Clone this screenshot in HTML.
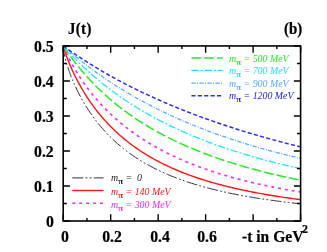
<!DOCTYPE html>
<html><head><meta charset="utf-8"><title>J(t)</title>
<style>
html,body{margin:0;padding:0;background:#fff;}
body{width:327px;height:252px;position:relative;overflow:hidden;font-family:"Liberation Serif",serif;}
.t{position:absolute;white-space:nowrap;line-height:1.149;will-change:transform;}
.b{font-weight:bold;-webkit-text-stroke:0.2px #000;}
.i{font-style:italic;}
.pi{font-style:normal;font-weight:bold;font-size:0.9em;position:relative;top:0.34em;}
.sup{font-size:0.8em;position:relative;top:-0.5em;}
</style></head><body>
<svg width="327" height="252" viewBox="0 0 327 252" style="position:absolute;left:0;top:0">
<clipPath id="cp"><rect x="63.2" y="45.95" width="237.40000000000003" height="175.05"/></clipPath>
<g clip-path="url(#cp)" fill="none">
<path d="M63.20,45.95 L63.50,49.88 L63.81,51.88 L64.11,53.54 L64.42,55.02 L64.72,56.39 L65.03,57.66 L65.33,58.88 L65.63,60.03 L65.94,61.15 L66.24,62.22 L66.55,63.27 L66.85,64.28 L67.16,65.27 L67.46,66.23 L67.77,67.17 L68.07,68.09 L68.37,69.00 L68.68,69.88 L68.98,70.75 L69.29,71.61 L69.59,72.45 L69.90,73.28 L70.20,74.09 L70.50,74.90 L70.81,75.69 L71.11,76.47 L71.42,77.24 L71.72,78.00 L72.03,78.75 L72.33,79.49 L72.64,80.22 L72.94,80.94 L73.24,81.66 L73.55,82.36 L73.85,83.06 L74.16,83.75 L74.46,84.44 L74.77,85.11 L75.07,85.78 L76.58,89.01 L78.10,92.09 L79.61,95.03 L81.12,97.86 L82.64,100.56 L84.15,103.17 L85.67,105.68 L87.18,108.10 L88.69,110.44 L90.21,112.69 L91.72,114.88 L93.23,116.99 L94.75,119.04 L96.26,121.03 L97.77,122.95 L99.29,124.82 L100.80,126.63 L102.32,128.39 L103.83,130.11 L105.34,131.77 L106.86,133.39 L108.37,134.96 L109.88,136.50 L111.40,137.99 L112.91,139.44 L114.42,140.86 L115.94,142.24 L117.45,143.59 L118.97,144.90 L120.48,146.18 L121.99,147.43 L123.51,148.65 L125.02,149.84 L126.53,151.00 L128.05,152.13 L129.56,153.24 L131.07,154.33 L132.59,155.38 L134.10,156.42 L135.61,157.43 L137.13,158.42 L138.64,159.38 L140.16,160.33 L141.67,161.26 L143.18,162.16 L144.70,163.05 L146.21,163.91 L147.72,164.76 L149.24,165.59 L150.75,166.41 L152.26,167.20 L153.78,167.98 L155.29,168.75 L156.81,169.50 L158.32,170.23 L159.83,170.95 L161.35,171.66 L162.86,172.35 L164.37,173.03 L165.89,173.69 L167.40,174.35 L168.91,174.99 L170.43,175.61 L171.94,176.23 L173.46,176.83 L174.97,177.43 L176.48,178.01 L178.00,178.58 L179.51,179.14 L181.02,179.69 L182.54,180.23 L184.05,180.76 L185.56,181.28 L187.08,181.79 L188.59,182.29 L190.11,182.79 L191.62,183.27 L193.13,183.75 L194.65,184.22 L196.16,184.68 L197.67,185.13 L199.19,185.57 L200.70,186.01 L202.21,186.44 L203.73,186.86 L205.24,187.28 L206.76,187.68 L208.27,188.09 L209.78,188.48 L211.30,188.87 L212.81,189.25 L214.32,189.63 L215.84,190.00 L217.35,190.36 L218.86,190.72 L220.38,191.07 L221.89,191.41 L223.41,191.76 L224.92,192.09 L226.43,192.42 L227.95,192.75 L229.46,193.07 L230.97,193.38 L232.49,193.69 L234.00,194.00 L235.51,194.30 L237.03,194.59 L238.54,194.89 L240.06,195.17 L241.57,195.46 L243.08,195.73 L244.60,196.01 L246.11,196.28 L247.62,196.55 L249.14,196.81 L250.65,197.07 L252.16,197.32 L253.68,197.57 L255.19,197.82 L256.70,198.06 L258.22,198.31 L259.73,198.54 L261.25,198.78 L262.76,199.01 L264.27,199.23 L265.79,199.46 L267.30,199.68 L268.81,199.90 L270.33,200.11 L271.84,200.32 L273.35,200.53 L274.87,200.74 L276.38,200.94 L277.90,201.14 L279.41,201.34 L280.92,201.53 L282.44,201.73 L283.95,201.92 L285.46,202.10 L286.98,202.29 L288.49,202.47 L290.00,202.65 L291.52,202.83 L293.03,203.00 L294.55,203.17 L296.06,203.35 L297.57,203.51 L299.09,203.68 L300.60,203.84" stroke="#303030" stroke-width="1.0" stroke-dasharray="11 2.3 1.8 2.3 1.8 2.3"/>
<path d="M63.20,45.95 L63.50,47.00 L63.81,48.01 L64.11,49.00 L64.42,49.96 L64.72,50.90 L65.03,51.82 L65.33,52.73 L65.63,53.61 L65.94,54.48 L66.24,55.34 L66.55,56.18 L66.85,57.00 L67.16,57.82 L67.46,58.62 L67.77,59.42 L68.07,60.20 L68.37,60.97 L68.68,61.73 L68.98,62.49 L69.29,63.23 L69.59,63.97 L69.90,64.69 L70.20,65.41 L70.50,66.13 L70.81,66.83 L71.11,67.53 L71.42,68.22 L71.72,68.90 L72.03,69.58 L72.33,70.25 L72.64,70.92 L72.94,71.57 L73.24,72.23 L73.55,72.87 L73.85,73.51 L74.16,74.15 L74.46,74.78 L74.77,75.40 L75.07,76.02 L76.58,79.03 L78.10,81.92 L79.61,84.70 L81.12,87.39 L82.64,89.99 L84.15,92.50 L85.67,94.93 L87.18,97.29 L88.69,99.57 L90.21,101.79 L91.72,103.95 L93.23,106.04 L94.75,108.08 L96.26,110.06 L97.77,111.98 L99.29,113.86 L100.80,115.69 L102.32,117.47 L103.83,119.20 L105.34,120.90 L106.86,122.55 L108.37,124.16 L109.88,125.73 L111.40,127.27 L112.91,128.76 L114.42,130.23 L115.94,131.66 L117.45,133.06 L118.97,134.42 L120.48,135.76 L121.99,137.06 L123.51,138.34 L125.02,139.59 L126.53,140.81 L128.05,142.01 L129.56,143.18 L131.07,144.33 L132.59,145.45 L134.10,146.55 L135.61,147.63 L137.13,148.68 L138.64,149.71 L140.16,150.73 L141.67,151.72 L143.18,152.69 L144.70,153.64 L146.21,154.58 L147.72,155.49 L149.24,156.39 L150.75,157.28 L152.26,158.14 L153.78,158.99 L155.29,159.82 L156.81,160.64 L158.32,161.44 L159.83,162.23 L161.35,163.00 L162.86,163.76 L164.37,164.50 L165.89,165.23 L167.40,165.95 L168.91,166.66 L170.43,167.35 L171.94,168.03 L173.46,168.70 L174.97,169.36 L176.48,170.00 L178.00,170.64 L179.51,171.26 L181.02,171.87 L182.54,172.48 L184.05,173.07 L185.56,173.65 L187.08,174.22 L188.59,174.79 L190.11,175.34 L191.62,175.88 L193.13,176.42 L194.65,176.95 L196.16,177.47 L197.67,177.98 L199.19,178.48 L200.70,178.97 L202.21,179.46 L203.73,179.94 L205.24,180.41 L206.76,180.87 L208.27,181.33 L209.78,181.78 L211.30,182.22 L212.81,182.65 L214.32,183.08 L215.84,183.50 L217.35,183.92 L218.86,184.33 L220.38,184.73 L221.89,185.13 L223.41,185.52 L224.92,185.91 L226.43,186.28 L227.95,186.66 L229.46,187.03 L230.97,187.39 L232.49,187.75 L234.00,188.10 L235.51,188.45 L237.03,188.79 L238.54,189.13 L240.06,189.46 L241.57,189.79 L243.08,190.11 L244.60,190.43 L246.11,190.75 L247.62,191.06 L249.14,191.36 L250.65,191.66 L252.16,191.96 L253.68,192.25 L255.19,192.54 L256.70,192.83 L258.22,193.11 L259.73,193.39 L261.25,193.66 L262.76,193.93 L264.27,194.20 L265.79,194.46 L267.30,194.72 L268.81,194.98 L270.33,195.23 L271.84,195.48 L273.35,195.72 L274.87,195.97 L276.38,196.21 L277.90,196.44 L279.41,196.68 L280.92,196.91 L282.44,197.13 L283.95,197.36 L285.46,197.58 L286.98,197.80 L288.49,198.02 L290.00,198.23 L291.52,198.44 L293.03,198.65 L294.55,198.85 L296.06,199.06 L297.57,199.26 L299.09,199.45 L300.60,199.65" stroke="#ff1414" stroke-width="1.4"/>
<path d="M63.20,45.95 L63.50,46.66 L63.81,47.36 L64.11,48.05 L64.42,48.74 L64.72,49.42 L65.03,50.09 L65.33,50.76 L65.63,51.42 L65.94,52.07 L66.24,52.72 L66.55,53.36 L66.85,54.00 L67.16,54.63 L67.46,55.25 L67.77,55.87 L68.07,56.49 L68.37,57.10 L68.68,57.70 L68.98,58.30 L69.29,58.90 L69.59,59.49 L69.90,60.07 L70.20,60.65 L70.50,61.23 L70.81,61.80 L71.11,62.37 L71.42,62.93 L71.72,63.49 L72.03,64.05 L72.33,64.60 L72.64,65.15 L72.94,65.69 L73.24,66.23 L73.55,66.77 L73.85,67.30 L74.16,67.83 L74.46,68.35 L74.77,68.87 L75.07,69.39 L76.58,71.92 L78.10,74.36 L79.61,76.74 L81.12,79.04 L82.64,81.28 L84.15,83.46 L85.67,85.58 L87.18,87.64 L88.69,89.65 L90.21,91.61 L91.72,93.52 L93.23,95.39 L94.75,97.21 L96.26,98.99 L97.77,100.73 L99.29,102.43 L100.80,104.09 L102.32,105.72 L103.83,107.31 L105.34,108.87 L106.86,110.40 L108.37,111.89 L109.88,113.36 L111.40,114.79 L112.91,116.20 L114.42,117.58 L115.94,118.93 L117.45,120.26 L118.97,121.56 L120.48,122.83 L121.99,124.09 L123.51,125.32 L125.02,126.53 L126.53,127.71 L128.05,128.88 L129.56,130.02 L131.07,131.14 L132.59,132.25 L134.10,133.33 L135.61,134.40 L137.13,135.45 L138.64,136.48 L140.16,137.49 L141.67,138.49 L143.18,139.47 L144.70,140.43 L146.21,141.38 L147.72,142.31 L149.24,143.23 L150.75,144.13 L152.26,145.02 L153.78,145.89 L155.29,146.75 L156.81,147.60 L158.32,148.43 L159.83,149.25 L161.35,150.06 L162.86,150.86 L164.37,151.64 L165.89,152.41 L167.40,153.17 L168.91,153.92 L170.43,154.66 L171.94,155.39 L173.46,156.10 L174.97,156.81 L176.48,157.50 L178.00,158.19 L179.51,158.86 L181.02,159.53 L182.54,160.19 L184.05,160.83 L185.56,161.47 L187.08,162.10 L188.59,162.72 L190.11,163.33 L191.62,163.93 L193.13,164.53 L194.65,165.11 L196.16,165.69 L197.67,166.26 L199.19,166.82 L200.70,167.38 L202.21,167.93 L203.73,168.47 L205.24,169.00 L206.76,169.52 L208.27,170.04 L209.78,170.56 L211.30,171.06 L212.81,171.56 L214.32,172.05 L215.84,172.54 L217.35,173.02 L218.86,173.49 L220.38,173.96 L221.89,174.42 L223.41,174.87 L224.92,175.32 L226.43,175.76 L227.95,176.20 L229.46,176.63 L230.97,177.06 L232.49,177.48 L234.00,177.90 L235.51,178.31 L237.03,178.72 L238.54,179.12 L240.06,179.51 L241.57,179.90 L243.08,180.29 L244.60,180.67 L246.11,181.05 L247.62,181.42 L249.14,181.79 L250.65,182.15 L252.16,182.51 L253.68,182.87 L255.19,183.22 L256.70,183.57 L258.22,183.91 L259.73,184.25 L261.25,184.58 L262.76,184.91 L264.27,185.24 L265.79,185.56 L267.30,185.88 L268.81,186.20 L270.33,186.51 L271.84,186.82 L273.35,187.12 L274.87,187.42 L276.38,187.72 L277.90,188.02 L279.41,188.31 L280.92,188.59 L282.44,188.88 L283.95,189.16 L285.46,189.44 L286.98,189.71 L288.49,189.99 L290.00,190.25 L291.52,190.52 L293.03,190.78 L294.55,191.04 L296.06,191.30 L297.57,191.56 L299.09,191.81 L300.60,192.06" stroke="#ff22ff" stroke-width="1.6" stroke-dasharray="3 3.9"/>
<path d="M63.20,45.95 L63.50,46.41 L63.81,46.87 L64.11,47.32 L64.42,47.77 L64.72,48.22 L65.03,48.67 L65.33,49.12 L65.63,49.56 L65.94,50.01 L66.24,50.45 L66.55,50.89 L66.85,51.32 L67.16,51.76 L67.46,52.19 L67.77,52.62 L68.07,53.05 L68.37,53.48 L68.68,53.91 L68.98,54.33 L69.29,54.76 L69.59,55.18 L69.90,55.60 L70.20,56.02 L70.50,56.43 L70.81,56.85 L71.11,57.26 L71.42,57.67 L71.72,58.08 L72.03,58.49 L72.33,58.89 L72.64,59.30 L72.94,59.70 L73.24,60.10 L73.55,60.50 L73.85,60.90 L74.16,61.29 L74.46,61.69 L74.77,62.08 L75.07,62.47 L76.58,64.40 L78.10,66.29 L79.61,68.14 L81.12,69.96 L82.64,71.74 L84.15,73.49 L85.67,75.21 L87.18,76.90 L88.69,78.56 L90.21,80.18 L91.72,81.79 L93.23,83.36 L94.75,84.90 L96.26,86.42 L97.77,87.92 L99.29,89.39 L100.80,90.83 L102.32,92.26 L103.83,93.65 L105.34,95.03 L106.86,96.38 L108.37,97.72 L109.88,99.03 L111.40,100.32 L112.91,101.59 L114.42,102.85 L115.94,104.08 L117.45,105.29 L118.97,106.49 L120.48,107.67 L121.99,108.83 L123.51,109.97 L125.02,111.10 L126.53,112.21 L128.05,113.31 L129.56,114.39 L131.07,115.45 L132.59,116.50 L134.10,117.54 L135.61,118.56 L137.13,119.56 L138.64,120.56 L140.16,121.53 L141.67,122.50 L143.18,123.45 L144.70,124.39 L146.21,125.32 L147.72,126.24 L149.24,127.14 L150.75,128.03 L152.26,128.91 L153.78,129.78 L155.29,130.63 L156.81,131.48 L158.32,132.31 L159.83,133.14 L161.35,133.95 L162.86,134.76 L164.37,135.55 L165.89,136.33 L167.40,137.11 L168.91,137.87 L170.43,138.63 L171.94,139.37 L173.46,140.11 L174.97,140.84 L176.48,141.56 L178.00,142.27 L179.51,142.97 L181.02,143.67 L182.54,144.35 L184.05,145.03 L185.56,145.70 L187.08,146.36 L188.59,147.01 L190.11,147.66 L191.62,148.30 L193.13,148.93 L194.65,149.56 L196.16,150.17 L197.67,150.78 L199.19,151.39 L200.70,151.98 L202.21,152.57 L203.73,153.16 L205.24,153.74 L206.76,154.31 L208.27,154.87 L209.78,155.43 L211.30,155.98 L212.81,156.53 L214.32,157.07 L215.84,157.60 L217.35,158.13 L218.86,158.65 L220.38,159.17 L221.89,159.68 L223.41,160.19 L224.92,160.69 L226.43,161.18 L227.95,161.67 L229.46,162.16 L230.97,162.64 L232.49,163.11 L234.00,163.58 L235.51,164.05 L237.03,164.51 L238.54,164.96 L240.06,165.41 L241.57,165.86 L243.08,166.30 L244.60,166.74 L246.11,167.17 L247.62,167.60 L249.14,168.03 L250.65,168.45 L252.16,168.86 L253.68,169.27 L255.19,169.68 L256.70,170.08 L258.22,170.48 L259.73,170.88 L261.25,171.27 L262.76,171.66 L264.27,172.04 L265.79,172.42 L267.30,172.80 L268.81,173.17 L270.33,173.54 L271.84,173.91 L273.35,174.27 L274.87,174.63 L276.38,174.98 L277.90,175.33 L279.41,175.68 L280.92,176.03 L282.44,176.37 L283.95,176.71 L285.46,177.04 L286.98,177.38 L288.49,177.70 L290.00,178.03 L291.52,178.35 L293.03,178.67 L294.55,178.99 L296.06,179.31 L297.57,179.62 L299.09,179.92 L300.60,180.23" stroke="#22ee22" stroke-width="1.5" stroke-dasharray="9.7 3.1"/>
<path d="M63.20,45.95 L63.50,46.29 L63.81,46.64 L64.11,46.98 L64.42,47.32 L64.72,47.66 L65.03,48.00 L65.33,48.34 L65.63,48.68 L65.94,49.01 L66.24,49.35 L66.55,49.68 L66.85,50.02 L67.16,50.35 L67.46,50.68 L67.77,51.01 L68.07,51.34 L68.37,51.67 L68.68,52.00 L68.98,52.33 L69.29,52.65 L69.59,52.98 L69.90,53.30 L70.20,53.63 L70.50,53.95 L70.81,54.27 L71.11,54.59 L71.42,54.91 L71.72,55.23 L72.03,55.55 L72.33,55.87 L72.64,56.18 L72.94,56.50 L73.24,56.81 L73.55,57.13 L73.85,57.44 L74.16,57.75 L74.46,58.06 L74.77,58.37 L75.07,58.68 L76.58,60.21 L78.10,61.72 L79.61,63.20 L81.12,64.67 L82.64,66.12 L84.15,67.54 L85.67,68.95 L87.18,70.35 L88.69,71.72 L90.21,73.07 L91.72,74.41 L93.23,75.73 L94.75,77.04 L96.26,78.32 L97.77,79.59 L99.29,80.85 L100.80,82.09 L102.32,83.31 L103.83,84.52 L105.34,85.72 L106.86,86.90 L108.37,88.06 L109.88,89.21 L111.40,90.35 L112.91,91.48 L114.42,92.59 L115.94,93.68 L117.45,94.77 L118.97,95.84 L120.48,96.90 L121.99,97.94 L123.51,98.98 L125.02,100.00 L126.53,101.01 L128.05,102.01 L129.56,102.99 L131.07,103.97 L132.59,104.93 L134.10,105.89 L135.61,106.83 L137.13,107.76 L138.64,108.68 L140.16,109.60 L141.67,110.50 L143.18,111.39 L144.70,112.27 L146.21,113.14 L147.72,114.00 L149.24,114.86 L150.75,115.70 L152.26,116.54 L153.78,117.36 L155.29,118.18 L156.81,118.99 L158.32,119.78 L159.83,120.58 L161.35,121.36 L162.86,122.13 L164.37,122.90 L165.89,123.66 L167.40,124.41 L168.91,125.15 L170.43,125.88 L171.94,126.61 L173.46,127.33 L174.97,128.04 L176.48,128.75 L178.00,129.44 L179.51,130.13 L181.02,130.82 L182.54,131.49 L184.05,132.16 L185.56,132.83 L187.08,133.48 L188.59,134.13 L190.11,134.78 L191.62,135.41 L193.13,136.04 L194.65,136.67 L196.16,137.29 L197.67,137.90 L199.19,138.51 L200.70,139.11 L202.21,139.70 L203.73,140.29 L205.24,140.87 L206.76,141.45 L208.27,142.02 L209.78,142.59 L211.30,143.15 L212.81,143.71 L214.32,144.26 L215.84,144.80 L217.35,145.34 L218.86,145.88 L220.38,146.41 L221.89,146.93 L223.41,147.45 L224.92,147.97 L226.43,148.48 L227.95,148.99 L229.46,149.49 L230.97,149.99 L232.49,150.48 L234.00,150.97 L235.51,151.45 L237.03,151.93 L238.54,152.40 L240.06,152.87 L241.57,153.34 L243.08,153.80 L244.60,154.26 L246.11,154.71 L247.62,155.16 L249.14,155.61 L250.65,156.05 L252.16,156.49 L253.68,156.92 L255.19,157.35 L256.70,157.78 L258.22,158.20 L259.73,158.62 L261.25,159.03 L262.76,159.44 L264.27,159.85 L265.79,160.26 L267.30,160.66 L268.81,161.06 L270.33,161.45 L271.84,161.84 L273.35,162.23 L274.87,162.61 L276.38,162.99 L277.90,163.37 L279.41,163.75 L280.92,164.12 L282.44,164.49 L283.95,164.85 L285.46,165.21 L286.98,165.57 L288.49,165.93 L290.00,166.28 L291.52,166.63 L293.03,166.98 L294.55,167.32 L296.06,167.66 L297.57,168.00 L299.09,168.34 L300.60,168.67" stroke="#10e8ff" stroke-width="1.25" stroke-dasharray="7.2 2.2 1.8 2.1"/>
<path d="M63.20,45.95 L63.50,46.22 L63.81,46.49 L64.11,46.76 L64.42,47.03 L64.72,47.30 L65.03,47.56 L65.33,47.83 L65.63,48.10 L65.94,48.36 L66.24,48.63 L66.55,48.89 L66.85,49.16 L67.16,49.42 L67.46,49.68 L67.77,49.95 L68.07,50.21 L68.37,50.47 L68.68,50.73 L68.98,50.99 L69.29,51.25 L69.59,51.51 L69.90,51.77 L70.20,52.03 L70.50,52.29 L70.81,52.55 L71.11,52.80 L71.42,53.06 L71.72,53.32 L72.03,53.57 L72.33,53.83 L72.64,54.08 L72.94,54.34 L73.24,54.59 L73.55,54.84 L73.85,55.09 L74.16,55.35 L74.46,55.60 L74.77,55.85 L75.07,56.10 L76.58,57.34 L78.10,58.57 L79.61,59.78 L81.12,60.98 L82.64,62.17 L84.15,63.35 L85.67,64.52 L87.18,65.68 L88.69,66.83 L90.21,67.96 L91.72,69.09 L93.23,70.20 L94.75,71.30 L96.26,72.40 L97.77,73.48 L99.29,74.55 L100.80,75.61 L102.32,76.67 L103.83,77.71 L105.34,78.74 L106.86,79.76 L108.37,80.78 L109.88,81.78 L111.40,82.77 L112.91,83.76 L114.42,84.74 L115.94,85.70 L117.45,86.66 L118.97,87.61 L120.48,88.55 L121.99,89.48 L123.51,90.41 L125.02,91.32 L126.53,92.23 L128.05,93.13 L129.56,94.02 L131.07,94.90 L132.59,95.78 L134.10,96.64 L135.61,97.50 L137.13,98.35 L138.64,99.20 L140.16,100.03 L141.67,100.86 L143.18,101.68 L144.70,102.50 L146.21,103.30 L147.72,104.10 L149.24,104.89 L150.75,105.68 L152.26,106.46 L153.78,107.23 L155.29,108.00 L156.81,108.75 L158.32,109.51 L159.83,110.25 L161.35,110.99 L162.86,111.72 L164.37,112.45 L165.89,113.17 L167.40,113.88 L168.91,114.59 L170.43,115.29 L171.94,115.99 L173.46,116.67 L174.97,117.36 L176.48,118.04 L178.00,118.71 L179.51,119.37 L181.02,120.03 L182.54,120.69 L184.05,121.34 L185.56,121.98 L187.08,122.62 L188.59,123.25 L190.11,123.88 L191.62,124.50 L193.13,125.12 L194.65,125.73 L196.16,126.34 L197.67,126.94 L199.19,127.54 L200.70,128.13 L202.21,128.72 L203.73,129.30 L205.24,129.88 L206.76,130.45 L208.27,131.02 L209.78,131.59 L211.30,132.14 L212.81,132.70 L214.32,133.25 L215.84,133.79 L217.35,134.34 L218.86,134.87 L220.38,135.40 L221.89,135.93 L223.41,136.46 L224.92,136.98 L226.43,137.49 L227.95,138.00 L229.46,138.51 L230.97,139.01 L232.49,139.51 L234.00,140.01 L235.51,140.50 L237.03,140.99 L238.54,141.47 L240.06,141.95 L241.57,142.43 L243.08,142.90 L244.60,143.37 L246.11,143.83 L247.62,144.29 L249.14,144.75 L250.65,145.21 L252.16,145.66 L253.68,146.10 L255.19,146.55 L256.70,146.99 L258.22,147.42 L259.73,147.86 L261.25,148.29 L262.76,148.71 L264.27,149.14 L265.79,149.56 L267.30,149.98 L268.81,150.39 L270.33,150.80 L271.84,151.21 L273.35,151.61 L274.87,152.01 L276.38,152.41 L277.90,152.81 L279.41,153.20 L280.92,153.59 L282.44,153.98 L283.95,154.36 L285.46,154.74 L286.98,155.12 L288.49,155.49 L290.00,155.87 L291.52,156.24 L293.03,156.60 L294.55,156.97 L296.06,157.33 L297.57,157.69 L299.09,158.04 L300.60,158.40" stroke="#5aaaff" stroke-width="1.3" stroke-dasharray="4.2 1.5 0.9 1.4"/>
<path d="M63.20,45.95 L63.50,46.17 L63.81,46.39 L64.11,46.61 L64.42,46.82 L64.72,47.04 L65.03,47.26 L65.33,47.48 L65.63,47.69 L65.94,47.91 L66.24,48.13 L66.55,48.34 L66.85,48.56 L67.16,48.77 L67.46,48.98 L67.77,49.20 L68.07,49.41 L68.37,49.63 L68.68,49.84 L68.98,50.05 L69.29,50.26 L69.59,50.47 L69.90,50.69 L70.20,50.90 L70.50,51.11 L70.81,51.32 L71.11,51.53 L71.42,51.74 L71.72,51.95 L72.03,52.15 L72.33,52.36 L72.64,52.57 L72.94,52.78 L73.24,52.99 L73.55,53.19 L73.85,53.40 L74.16,53.61 L74.46,53.81 L74.77,54.02 L75.07,54.22 L76.58,55.24 L78.10,56.25 L79.61,57.24 L81.12,58.23 L82.64,59.22 L84.15,60.19 L85.67,61.16 L87.18,62.11 L88.69,63.07 L90.21,64.01 L91.72,64.94 L93.23,65.87 L94.75,66.79 L96.26,67.70 L97.77,68.61 L99.29,69.51 L100.80,70.40 L102.32,71.28 L103.83,72.16 L105.34,73.03 L106.86,73.90 L108.37,74.75 L109.88,75.60 L111.40,76.45 L112.91,77.29 L114.42,78.12 L115.94,78.94 L117.45,79.76 L118.97,80.58 L120.48,81.38 L121.99,82.18 L123.51,82.98 L125.02,83.77 L126.53,84.55 L128.05,85.33 L129.56,86.10 L131.07,86.86 L132.59,87.62 L134.10,88.38 L135.61,89.13 L137.13,89.87 L138.64,90.61 L140.16,91.34 L141.67,92.07 L143.18,92.79 L144.70,93.51 L146.21,94.22 L147.72,94.93 L149.24,95.63 L150.75,96.33 L152.26,97.02 L153.78,97.71 L155.29,98.40 L156.81,99.07 L158.32,99.75 L159.83,100.42 L161.35,101.08 L162.86,101.74 L164.37,102.39 L165.89,103.04 L167.40,103.69 L168.91,104.33 L170.43,104.97 L171.94,105.60 L173.46,106.23 L174.97,106.86 L176.48,107.48 L178.00,108.09 L179.51,108.70 L181.02,109.31 L182.54,109.92 L184.05,110.52 L185.56,111.11 L187.08,111.70 L188.59,112.29 L190.11,112.87 L191.62,113.45 L193.13,114.03 L194.65,114.60 L196.16,115.17 L197.67,115.74 L199.19,116.30 L200.70,116.86 L202.21,117.41 L203.73,117.96 L205.24,118.51 L206.76,119.05 L208.27,119.59 L209.78,120.13 L211.30,120.66 L212.81,121.19 L214.32,121.71 L215.84,122.24 L217.35,122.76 L218.86,123.27 L220.38,123.79 L221.89,124.29 L223.41,124.80 L224.92,125.30 L226.43,125.80 L227.95,126.30 L229.46,126.79 L230.97,127.29 L232.49,127.77 L234.00,128.26 L235.51,128.74 L237.03,129.22 L238.54,129.69 L240.06,130.17 L241.57,130.63 L243.08,131.10 L244.60,131.57 L246.11,132.03 L247.62,132.48 L249.14,132.94 L250.65,133.39 L252.16,133.84 L253.68,134.29 L255.19,134.73 L256.70,135.17 L258.22,135.61 L259.73,136.05 L261.25,136.48 L262.76,136.91 L264.27,137.34 L265.79,137.77 L267.30,138.19 L268.81,138.61 L270.33,139.03 L271.84,139.45 L273.35,139.86 L274.87,140.27 L276.38,140.68 L277.90,141.08 L279.41,141.49 L280.92,141.89 L282.44,142.29 L283.95,142.68 L285.46,143.08 L286.98,143.47 L288.49,143.86 L290.00,144.24 L291.52,144.63 L293.03,145.01 L294.55,145.39 L296.06,145.77 L297.57,146.14 L299.09,146.52 L300.60,146.89" stroke="#2a2af0" stroke-width="1.45" stroke-dasharray="4.1 2.3"/>
</g>
<rect x="63.2" y="45.95" width="237.40000000000003" height="175.05" fill="none" stroke="#000" stroke-width="1.6"/>
<path d="M63.20,221.0 v-6.8 M63.20,45.95 v6.8 M86.94,221.0 v-3.1 M86.94,45.95 v3.1 M110.68,221.0 v-6.8 M110.68,45.95 v6.8 M134.42,221.0 v-3.1 M134.42,45.95 v3.1 M158.16,221.0 v-6.8 M158.16,45.95 v6.8 M181.90,221.0 v-3.1 M181.90,45.95 v3.1 M205.64,221.0 v-6.8 M205.64,45.95 v6.8 M229.38,221.0 v-3.1 M229.38,45.95 v3.1 M253.12,221.0 v-6.8 M253.12,45.95 v6.8 M276.86,221.0 v-3.1 M276.86,45.95 v3.1 M300.60,221.0 v-6.8 M300.60,45.95 v6.8 M63.2,221.00 h6.7 M300.6,221.00 h-6.7 M63.2,203.50 h3.6 M300.6,203.50 h-3.6 M63.2,185.99 h6.7 M300.6,185.99 h-6.7 M63.2,168.48 h3.6 M300.6,168.48 h-3.6 M63.2,150.98 h6.7 M300.6,150.98 h-6.7 M63.2,133.47 h3.6 M300.6,133.47 h-3.6 M63.2,115.97 h6.7 M300.6,115.97 h-6.7 M63.2,98.46 h3.6 M300.6,98.46 h-3.6 M63.2,80.96 h6.7 M300.6,80.96 h-6.7 M63.2,63.45 h3.6 M300.6,63.45 h-3.6 M63.2,45.95 h6.7 M300.6,45.95 h-6.7" stroke="#000" stroke-width="1.4" fill="none"/>
<path d="M72.3,177.9 h31.2" stroke="#303030" stroke-width="1.0" stroke-dasharray="11 2.3 1.8 2.3 1.8 2.3" fill="none"/>
<path d="M72.3,190.5 h31.2" stroke="#ff1414" stroke-width="1.4" fill="none"/>
<path d="M72.3,203.2 h31.2" stroke="#ff22ff" stroke-width="1.6" stroke-dasharray="3 3.9" fill="none"/>
<path d="M191.4,57.9 h31.2" stroke="#22ee22" stroke-width="1.5" stroke-dasharray="9.7 3.1" fill="none"/>
<path d="M191.4,70.3 h31.2" stroke="#10e8ff" stroke-width="1.25" stroke-dasharray="7.2 2.2 1.8 2.1" fill="none"/>
<path d="M191.4,83.2 h31.2" stroke="#5aaaff" stroke-width="1.3" stroke-dasharray="4.2 1.5 0.9 1.4" fill="none"/>
<path d="M191.4,95.8 h31.2" stroke="#2a2af0" stroke-width="1.45" stroke-dasharray="4.1 2.3" fill="none"/>
</svg>
<div class="t b" style="font-size:14.9px;color:#000;top:21.21px;left:68.1px;transform:scaleY(1.06);transform-origin:0 13.59px;"><span style="letter-spacing:0.35px">J(t)</span></div>
<div class="t b" style="font-size:14.9px;color:#000;top:21.21px;right:24.50px;transform:scaleY(1.06);transform-origin:0 13.59px;">(b)</div>
<div class="t b" style="font-size:15.8px;color:#000;top:212.79px;right:273.00px;transform:scaleY(1.06);transform-origin:0 14.41px;">0</div>
<div class="t b" style="font-size:15.8px;color:#000;top:177.78px;right:273.00px;transform:scaleY(1.06);transform-origin:0 14.41px;">0.1</div>
<div class="t b" style="font-size:15.8px;color:#000;top:142.77px;right:273.00px;transform:scaleY(1.06);transform-origin:0 14.41px;">0.2</div>
<div class="t b" style="font-size:15.8px;color:#000;top:107.76px;right:273.00px;transform:scaleY(1.06);transform-origin:0 14.41px;">0.3</div>
<div class="t b" style="font-size:15.8px;color:#000;top:72.75px;right:273.00px;transform:scaleY(1.06);transform-origin:0 14.41px;">0.4</div>
<div class="t b" style="font-size:15.8px;color:#000;top:37.74px;right:273.00px;transform:scaleY(1.06);transform-origin:0 14.41px;">0.5</div>
<div class="t b" style="font-size:15.8px;color:#000;top:227.69px;left:15.00px;width:100px;text-align:center;transform:scaleY(1.06);transform-origin:0 14.41px;">0</div>
<div class="t b" style="font-size:15.8px;color:#000;top:227.69px;left:62.48px;width:100px;text-align:center;transform:scaleY(1.06);transform-origin:0 14.41px;">0.2</div>
<div class="t b" style="font-size:15.8px;color:#000;top:227.69px;left:109.96px;width:100px;text-align:center;transform:scaleY(1.06);transform-origin:0 14.41px;">0.4</div>
<div class="t b" style="font-size:15.8px;color:#000;top:227.69px;left:157.44px;width:100px;text-align:center;transform:scaleY(1.06);transform-origin:0 14.41px;">0.6</div>
<div class="t b" style="font-size:15.6px;color:#000;top:227.67px;left:241.9px;transform:scaleY(1.06);transform-origin:0 14.23px;">-t in GeV</div>
<div class="t b" style="font-size:11.9px;color:#000;top:223.05px;left:302.3px;transform:scaleY(1.06);transform-origin:0 10.85px;">2</div>
<div class="t i" style="font-size:9.9px;color:#222;top:172.27px;left:111px;">m<span class="pi">π</span> = &nbsp;0</div>
<div class="t i" style="font-size:9.9px;color:#ff1414;top:185.67px;left:111px;">m<span class="pi">π</span> = 140 MeV</div>
<div class="t i" style="font-size:9.9px;color:#ff22ff;top:198.57px;left:111px;">m<span class="pi">π</span> = 300 MeV</div>
<div class="t i" style="font-size:9.9px;color:#22ee22;top:52.77px;left:229.2px;">m<span class="pi">π</span> = 500 MeV</div>
<div class="t i" style="font-size:9.9px;color:#10e8ff;top:65.37px;left:229.2px;">m<span class="pi">π</span> = 700 MeV</div>
<div class="t i" style="font-size:9.9px;color:#5aaaff;top:77.67px;left:229.2px;">m<span class="pi">π</span> = 900 MeV</div>
<div class="t i" style="font-size:9.9px;color:#2222e0;top:89.87px;left:229.2px;">m<span class="pi">π</span> = 1200 MeV</div>
</body></html>
